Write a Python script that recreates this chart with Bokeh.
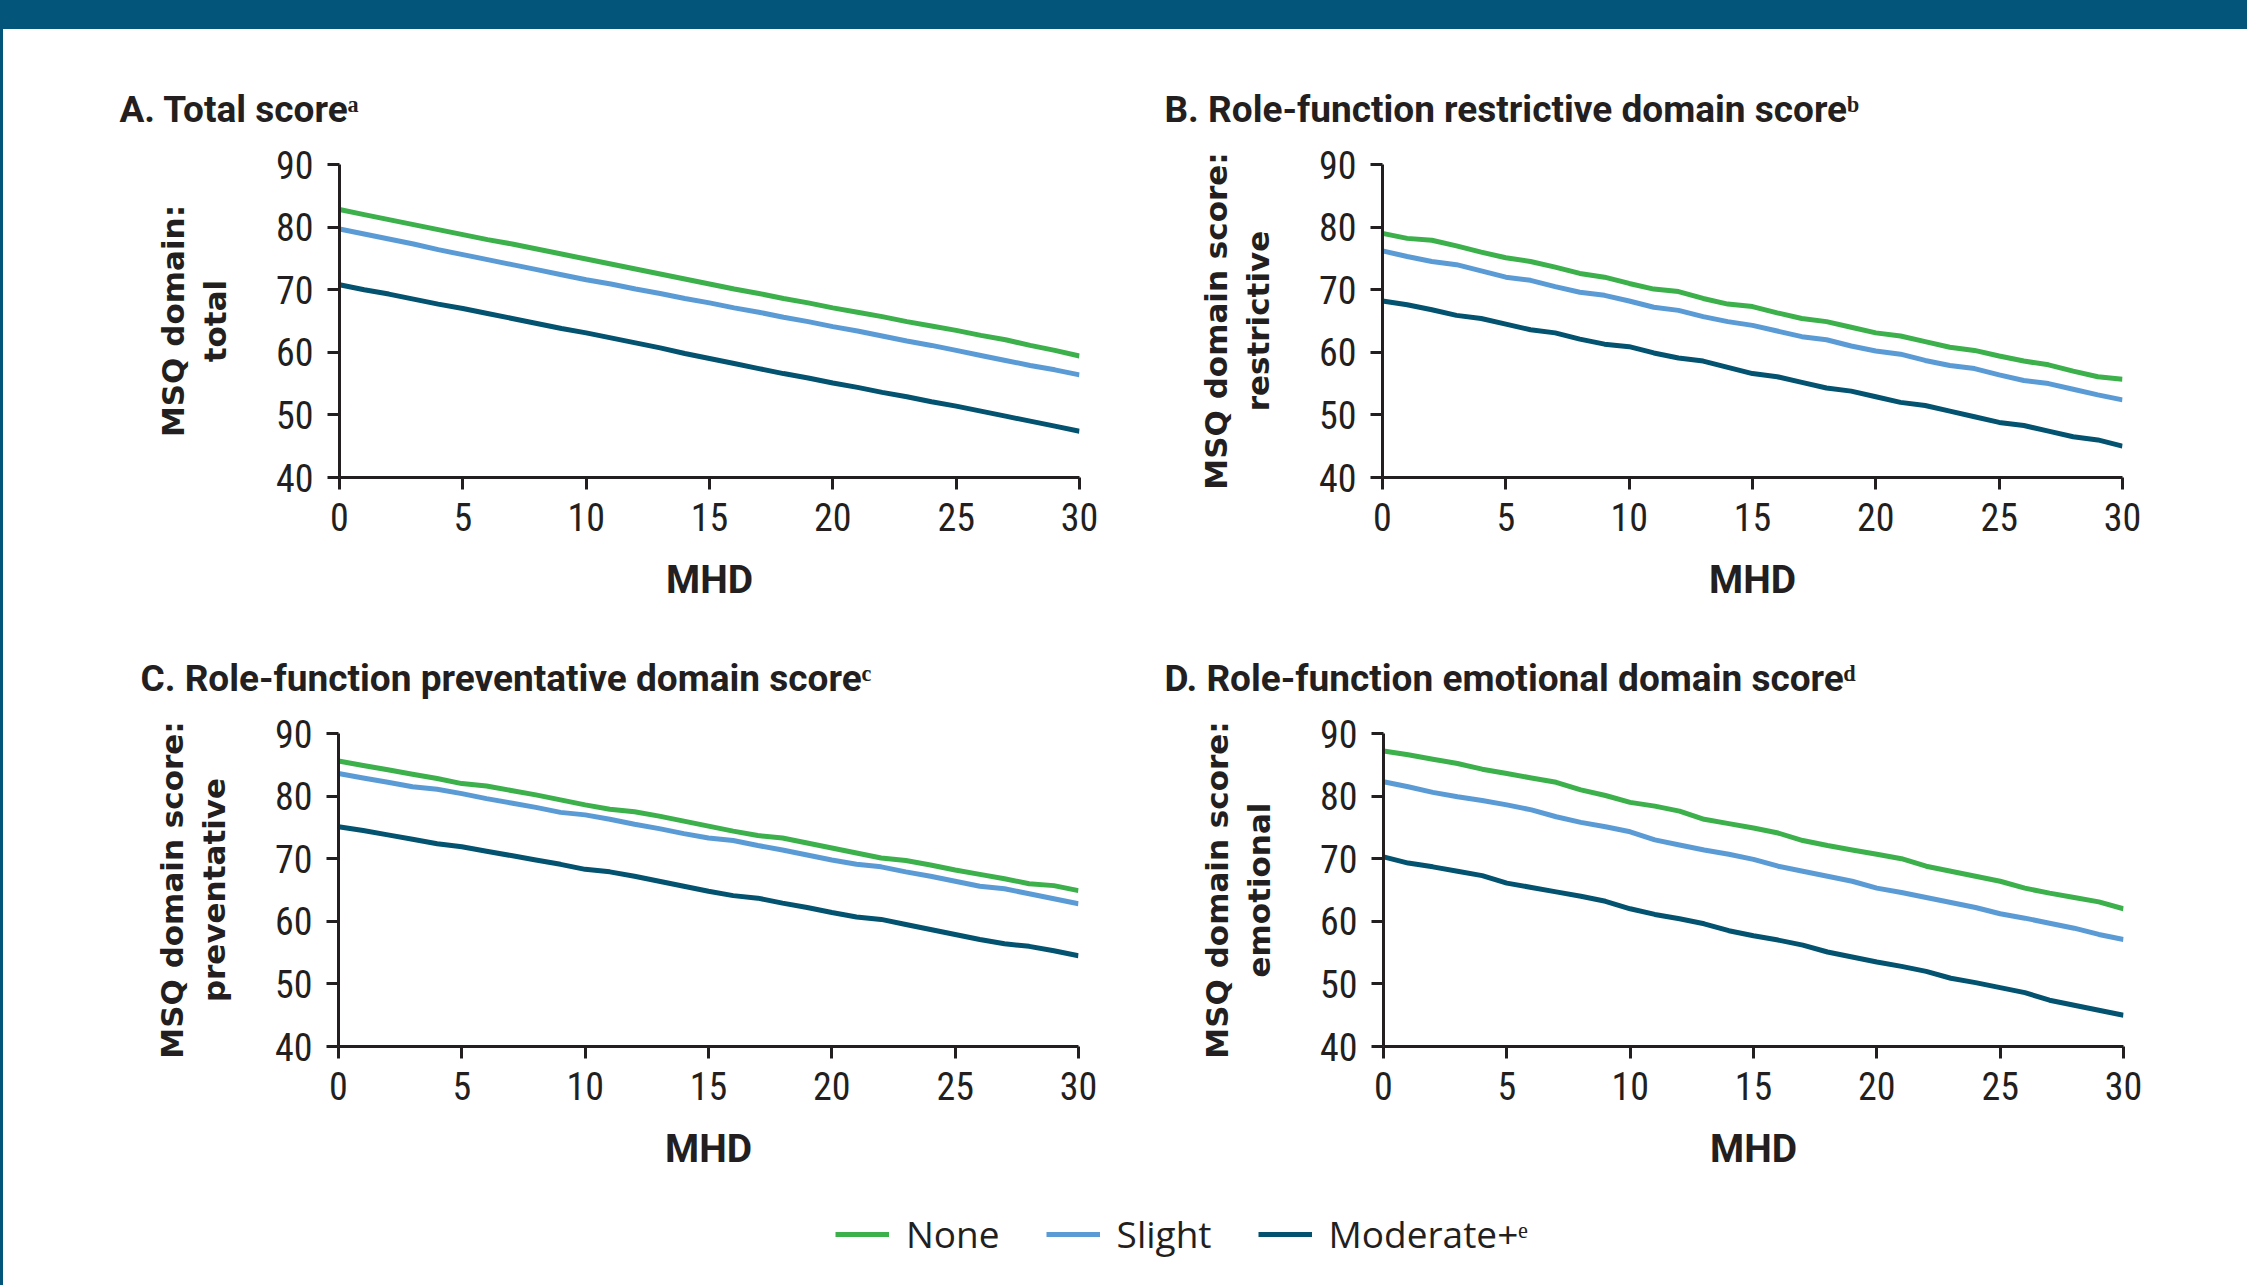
from bokeh.plotting import figure
from bokeh.models import Range1d, FixedTicker, Title, Legend, LegendItem, Div
from bokeh.layouts import row, column
from bokeh.embed import file_html
from bokeh.resources import INLINE

# ---------------- data ----------------
mhd = list(range(0, 31))
series_names = ["None", "Slight", "Moderate+ᵉ"]
x_ticks = [0, 5, 10, 15, 20, 25, 30]
y_ticks = [40, 50, 60, 70, 80, 90]

titles = [
    "A. Total scoreᵃ",
    "B. Role-function restrictive domain scoreᵇ",
    "C. Role-function preventative domain scoreᶜ",
    "D. Role-function emotional domain scoreᵈ",
]
y_labels = [
    "MSQ domain:\ntotal",
    "MSQ domain score:\nrestrictive",
    "MSQ domain score:\npreventative",
    "MSQ domain score:\nemotional",
]
x_label = "MHD"

a_none = [82.8, 82.0, 81.2, 80.4, 79.6, 78.8, 78.0, 77.3, 76.5, 75.7, 74.9, 74.1, 73.3, 72.5, 71.7, 70.9,
          70.1, 69.4, 68.6, 67.9, 67.1, 66.4, 65.7, 64.9, 64.2, 63.5, 62.7, 62.0, 61.1, 60.3, 59.4]
a_slight = [79.7, 78.9, 78.1, 77.3, 76.4, 75.6, 74.8, 74.0, 73.2, 72.4, 71.6, 70.9, 70.1, 69.4, 68.6, 67.9,
            67.1, 66.4, 65.6, 64.9, 64.1, 63.4, 62.6, 61.8, 61.1, 60.3, 59.5, 58.7, 57.9, 57.2, 56.4]
a_mod = [70.8, 70.0, 69.3, 68.5, 67.7, 67.0, 66.2, 65.4, 64.6, 63.8, 63.1, 62.3, 61.5, 60.7, 59.8, 59.0,
         58.2, 57.4, 56.6, 55.9, 55.1, 54.4, 53.6, 52.9, 52.1, 51.4, 50.6, 49.8, 49.0, 48.2, 47.4]

b_none = [79.0, 78.2, 77.9, 77.0, 76.0, 75.1, 74.5, 73.6, 72.6, 72.0, 71.0, 70.1, 69.7, 68.6, 67.7, 67.3,
          66.3, 65.4, 64.9, 64.0, 63.1, 62.6, 61.7, 60.8, 60.3, 59.4, 58.6, 58.0, 57.0, 56.1, 55.7]
b_slight = [76.2, 75.3, 74.5, 74.0, 73.0, 72.0, 71.5, 70.5, 69.6, 69.1, 68.2, 67.2, 66.7, 65.7, 64.9, 64.3,
            63.4, 62.5, 62.0, 61.0, 60.2, 59.7, 58.7, 57.9, 57.4, 56.4, 55.5, 55.0, 54.1, 53.2, 52.4]
b_mod = [68.2, 67.6, 66.8, 65.9, 65.4, 64.5, 63.6, 63.1, 62.1, 61.3, 60.9, 59.9, 59.1, 58.6, 57.6, 56.6,
         56.1, 55.2, 54.3, 53.8, 52.9, 52.0, 51.5, 50.6, 49.7, 48.8, 48.3, 47.4, 46.5, 46.0, 45.0]

c_none = [85.6, 84.9, 84.2, 83.5, 82.8, 82.0, 81.6, 80.9, 80.2, 79.4, 78.6, 77.9, 77.5, 76.8, 76.0, 75.2,
          74.4, 73.7, 73.3, 72.5, 71.7, 70.9, 70.1, 69.7, 69.0, 68.2, 67.5, 66.8, 66.0, 65.7, 64.9]
c_slight = [83.6, 82.9, 82.2, 81.5, 81.1, 80.4, 79.6, 78.9, 78.2, 77.4, 77.0, 76.3, 75.5, 74.8, 74.0, 73.3,
            72.9, 72.1, 71.4, 70.6, 69.8, 69.1, 68.7, 67.9, 67.2, 66.4, 65.6, 65.2, 64.4, 63.6, 62.8]
c_mod = [75.1, 74.5, 73.8, 73.1, 72.4, 71.9, 71.2, 70.5, 69.8, 69.1, 68.3, 67.9, 67.2, 66.4, 65.6, 64.8,
         64.1, 63.7, 62.9, 62.2, 61.4, 60.7, 60.3, 59.5, 58.7, 57.9, 57.1, 56.4, 56.0, 55.3, 54.5]

d_none = [87.2, 86.6, 85.9, 85.2, 84.3, 83.6, 82.9, 82.2, 81.0, 80.1, 79.0, 78.4, 77.6, 76.3, 75.6, 74.9,
          74.1, 72.9, 72.1, 71.4, 70.7, 70.0, 68.8, 68.0, 67.2, 66.4, 65.3, 64.5, 63.8, 63.1, 62.0]
d_slight = [82.3, 81.5, 80.6, 79.9, 79.3, 78.6, 77.8, 76.7, 75.8, 75.1, 74.3, 73.0, 72.2, 71.4, 70.7, 69.9,
            68.8, 68.0, 67.2, 66.4, 65.3, 64.6, 63.8, 63.0, 62.2, 61.2, 60.5, 59.7, 58.9, 57.9, 57.1]
d_mod = [70.3, 69.3, 68.7, 68.0, 67.3, 66.1, 65.4, 64.7, 64.0, 63.2, 62.0, 61.1, 60.4, 59.6, 58.5, 57.7,
         57.0, 56.2, 55.1, 54.3, 53.5, 52.8, 52.0, 50.9, 50.2, 49.4, 48.6, 47.4, 46.6, 45.8, 45.0]

# ---------------- style ----------------
TEAL = "#03567a"
GREEN = "#3cb04b"
BLUE = "#5b9bd5"
DARK = "#03526f"
INK = "#231f20"
COLORS = [GREEN, BLUE, DARK]
NARROW = "Liberation Sans Narrow, Roboto Condensed, Liberation Sans"
FRAME_W, FRAME_H = 740, 313


def panel(title, ylabel, ys, bl, br, bt, bb, toff):
    p = figure(width=bl + FRAME_W + br, height=bt + FRAME_H + bb,
               x_range=Range1d(0, 30), y_range=Range1d(40, 90),
               output_backend="svg", toolbar_location=None, title=None,
               min_border_left=bl, min_border_right=br, min_border_top=bt, min_border_bottom=bb)
    p.outline_line_color = None
    p.xgrid.visible = False
    p.ygrid.visible = False
    p.background_fill_color = "white"
    p.border_fill_color = "white"
    for yv, c in zip(ys, COLORS):
        p.line(mhd, yv, line_color=c, line_width=5, line_join="round")
    for ax, ticks in ((p.xaxis[0], x_ticks), (p.yaxis[0], y_ticks)):
        ax.ticker = FixedTicker(ticks=ticks)
        ax.axis_line_color = INK
        ax.axis_line_width = 3
        ax.major_tick_line_color = INK
        ax.major_tick_line_width = 3
        ax.major_tick_out = 12
        ax.major_tick_in = 0
        ax.minor_tick_line_color = None
        ax.major_label_text_font = NARROW
        ax.major_label_text_font_size = "38px"
        ax.major_label_text_color = INK
    p.yaxis.major_label_standoff = 14
    p.xaxis.major_label_standoff = 13
    p.xaxis.axis_label = x_label
    p.xaxis.axis_label_text_font = "Roboto"
    p.xaxis.axis_label_text_font_style = "bold"
    p.xaxis.axis_label_text_font_size = "39px"
    p.xaxis.axis_label_text_color = INK
    p.xaxis.axis_label_standoff = 23
    p.yaxis.axis_label = ylabel
    p.yaxis.axis_label_text_font = "DejaVu Sans"
    p.yaxis.axis_label_text_font_style = "bold"
    p.yaxis.axis_label_text_font_size = "31px"
    p.yaxis.axis_label_text_color = INK
    p.yaxis.axis_label_text_line_height = 1.17
    p.yaxis.axis_label_standoff = 40
    t = Title(text=title, align="left", offset=toff, text_font="Roboto", text_font_style="bold",
              text_font_size="37px", text_color=INK, standoff=67)
    p.add_layout(t, "above")
    return p


pA = panel(titles[0], y_labels[0], [a_none, a_slight, a_mod], 336, 48, 135, 131, -220)
pB = panel(titles[1], y_labels[1], [b_none, b_slight, b_mod], 255, 125, 135, 131, -218)
pC = panel(titles[2], y_labels[2], [c_none, c_slight, c_mod], 335, 49, 125, 130, -198)
pD = panel(titles[3], y_labels[3], [d_none, d_slight, d_mod], 256, 124, 125, 130, -219)

# legend strip: the series of panel A feed the legend swatches (the plot area itself is kept out of view)
lp = figure(width=2244, height=109, x_range=Range1d(100, 101), y_range=Range1d(100, 101),
            output_backend="svg", toolbar_location=None, min_border=0,
            x_axis_location=None, y_axis_location=None)
lp.outline_line_color = None
lp.xgrid.visible = False
lp.ygrid.visible = False
items = []
for name, c, yv in zip(series_names, COLORS, [a_none, a_slight, a_mod]):
    r = lp.line(mhd, yv, line_color=c, line_width=5)
    items.append(LegendItem(label=name, renderers=[r]))
legend = Legend(items=items, orientation="horizontal", location=(832, 26),
                border_line_color=None, background_fill_alpha=0,
                label_text_font="Open Sans", label_text_font_size="37px", label_text_color=INK,
                glyph_width=54, glyph_height=40, label_height=40, label_standoff=17,
                spacing=46, padding=0, margin=0)
lp.add_layout(legend)

top_bar = Div(width=2244, height=29, margin=0, styles={"background-color": TEAL})
left_bar = Div(width=3, height=1285, margin=0, styles={"background-color": TEAL})

layout = row(left_bar, column(top_bar, row(pA, pB), row(pC, pD), lp))

open("out.html", "w").write(file_html(layout, INLINE))
